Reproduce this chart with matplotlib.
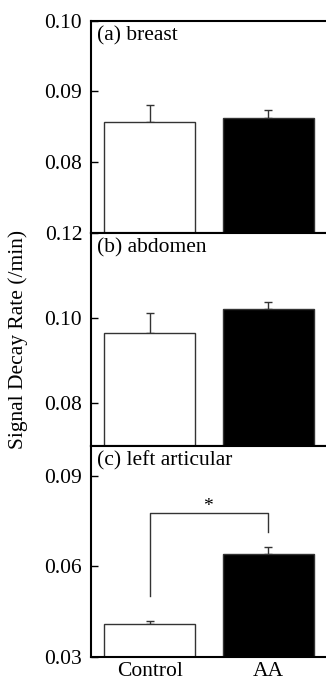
import matplotlib
matplotlib.use("Agg")
import matplotlib.pyplot as plt

groups = ["Control", "AA"]
panel_titles = ["(a) breast", "(b) abdomen", "(c) left articular"]
means_breast = [0.0857, 0.0863]
errs_breast = [0.0024, 0.0011]
means_abdomen = [0.0966, 0.1021]
errs_abdomen = [0.0047, 0.0018]
means_articular = [0.0410, 0.0641]
errs_articular = [0.0010, 0.0025]
ylims = [(0.07, 0.10), (0.07, 0.12), (0.03, 0.10)]
yticks = [[0.08, 0.09, 0.10], [0.08, 0.10, 0.12], [0.03, 0.06, 0.09]]
ytick_labels = [["0.08", "0.09", "0.10"], ["0.08", "0.10", "0.12"], ["0.03", "0.06", "0.09"]]
bracket_y = [0.0503, 0.0776, 0.0715]
star_y = 0.0800

plt.rcParams['font.family'] = ['Liberation Serif', 'DejaVu Serif']
FS = 15.5

fig = plt.figure(figsize=(3.26, 6.81), dpi=100)
W, H = 326.0, 681.0
left = 90.5 / W
width = (328 - 90.5) / W
tops = [20.7, 233.0, 446.0]
bots = [233.0, 446.0, 656.7]

means = [means_breast, means_abdomen, means_articular]
errs = [errs_breast, errs_abdomen, errs_articular]
colors = ["white", "black"]
x = [0, 1]

axes = []
for i in range(3):
    ax = fig.add_axes([left, (H - bots[i]) / H, width, (bots[i] - tops[i]) / H])
    axes.append(ax)
    ax.bar(x, means[i], width=0.771, color=colors, edgecolor="#333333",
           linewidth=1.0, zorder=2)
    ax.errorbar(x, means[i], yerr=[[0, 0], errs[i]], fmt="none",
                ecolor="#333333", elinewidth=1.0, capsize=3, capthick=1.0, zorder=1)
    ax.set_ylim(*ylims[i])
    ax.set_xlim(-0.504, 1.508)
    ax.set_yticks(yticks[i])
    ax.set_yticklabels(ytick_labels[i], fontsize=FS)
    ax.tick_params(axis="y", direction="in", length=5, width=1.0, pad=6)
    for s in ax.spines.values():
        s.set_linewidth(1.5)
    ax.text(0.026, 0.975, panel_titles[i], transform=ax.transAxes,
            fontsize=FS, va="top", ha="left")
    if i < 2:
        ax.set_xticks([])
    else:
        ax.set_xticks(x)
        ax.set_xticklabels(groups, fontsize=FS)
        ax.tick_params(axis="x", length=0, pad=4)

ax = axes[2]
ax.plot([x[0], x[0], x[1], x[1]],
        [bracket_y[0], bracket_y[1], bracket_y[1], bracket_y[2]],
        color="#333333", linewidth=1.0)
ax.text(0.49, star_y, "*", fontsize=14, ha="center", va="center")

fig.text(18 / W, (H - 339) / H, "Signal Decay Rate (/min)", rotation=90,
         fontsize=FS, ha="center", va="center")

fig.savefig("out.png", dpi=100)
